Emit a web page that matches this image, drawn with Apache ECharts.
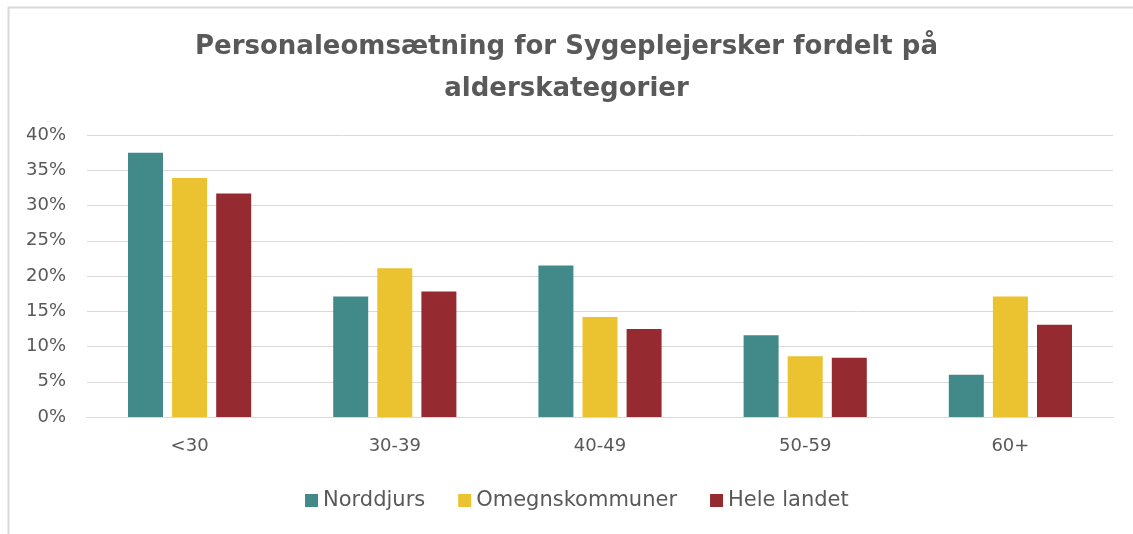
<!DOCTYPE html>
<html>
<head>
<meta charset="utf-8">
<script src="https://cdn.jsdelivr.net/npm/echarts@6/dist/echarts.min.js"></script>
<style>
  html, body { margin: 0; padding: 0; background: #fff; }
  #chart { width: 1133px; height: 534px; }
</style>
</head>
<body>
<div id="chart"></div>
<script>
var categories = ['<30', '30-39', '40-49', '50-59', '60+'];
var norddjurs = [37.5, 17.1, 21.5, 11.6, 6.0];
var omegn = [33.9, 21.1, 14.2, 8.6, 17.1];
var heleLandet = [31.7, 17.8, 12.5, 8.4, 13.1];

var chartDom = document.getElementById('chart');
var myChart = echarts.init(chartDom);

var font = 'DejaVu Sans, sans-serif';

var option = {
  animation: false,
  color: ['#418a89', '#ebc22f', '#952a31'],
  title: {
    text: 'Personaleomsætning for Sygeplejersker fordelt på\nalderskategorier',
    left: 'center',
    top: 21,
    textStyle: {
      color: '#595959',
      fontSize: 26,
      fontWeight: 'bold',
      fontFamily: font,
      lineHeight: 42
    }
  },
  legend: {
    bottom: 18,
    left: 300,
    itemWidth: 13,
    itemHeight: 13,
    itemGap: 33,
    icon: 'rect',
    textStyle: {
      color: '#595959',
      fontSize: 21,
      fontFamily: font
    },
    data: ['Norddjurs', 'Omegnskommuner', 'Hele landet']
  },
  grid: {
    left: 87,
    right: 20,
    top: 135,
    bottom: 117
  },
  xAxis: {
    type: 'category',
    data: categories,
    axisTick: { show: false },
    axisLine: { lineStyle: { color: '#d9d9d9' } },
    axisLabel: {
      color: '#595959',
      fontSize: 18,
      fontFamily: font,
      margin: 20
    }
  },
  yAxis: {
    type: 'value',
    min: 0,
    max: 40,
    interval: 5,
    axisLine: { show: false },
    axisTick: { show: false },
    splitLine: { lineStyle: { color: '#d9d9d9', width: 1 } },
    axisLabel: {
      color: '#595959',
      fontSize: 18,
      fontFamily: font,
      margin: 21,
      formatter: '{value}%'
    }
  },
  graphic: [
    { type: 'line', shape: { x1: 8.5, y1: 7, x2: 8.5, y2: 534 }, style: { stroke: '#d9d9d9', lineWidth: 2 } },
    { type: 'line', shape: { x1: 8, y1: 7.5, x2: 1133, y2: 7.5 }, style: { stroke: '#d9d9d9', lineWidth: 2 } }
  ],
  series: [
    { name: 'Norddjurs', type: 'bar', data: norddjurs, barWidth: 35, barGap: '26%', barCategoryGap: '40%' },
    { name: 'Omegnskommuner', type: 'bar', data: omegn, barWidth: 35, barGap: '26%' },
    { name: 'Hele landet', type: 'bar', data: heleLandet, barWidth: 35, barGap: '26%' }
  ]
};

myChart.setOption(option);
</script>
</body>
</html>
